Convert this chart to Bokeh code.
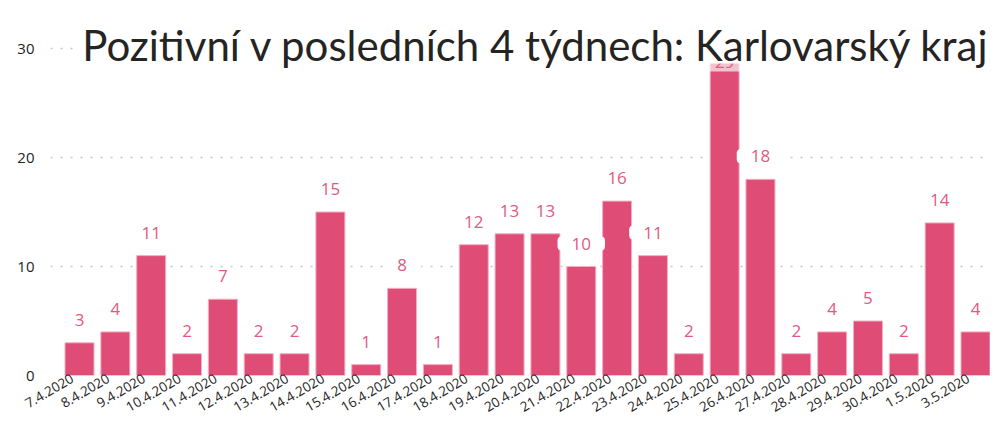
from bokeh.plotting import figure
from bokeh.models import (Range1d, FixedTicker, BoxAnnotation, Label, ColumnDataSource,
                          LinearAxis)
from bokeh.embed import file_html
from bokeh.resources import INLINE
from bokeh.core.properties import value

# ---- data ----
dates = ["7.4.2020", "8.4.2020", "9.4.2020", "10.4.2020", "11.4.2020", "12.4.2020",
         "13.4.2020", "14.4.2020", "15.4.2020", "16.4.2020", "17.4.2020", "18.4.2020",
         "19.4.2020", "20.4.2020", "21.4.2020", "22.4.2020", "23.4.2020", "24.4.2020",
         "25.4.2020", "26.4.2020", "27.4.2020", "28.4.2020", "29.4.2020", "30.4.2020",
         "1.5.2020", "3.5.2020"]
cases = [3, 4, 11, 2, 7, 2, 2, 15, 1, 8, 1, 12, 13, 13, 10, 16, 11, 2, 29, 18, 2, 4, 5, 2, 14, 4]
y_ticks = [0, 10, 20, 30]
title_text = "Pozitivní v posledních 4 týdnech: Karlovarský kraj"

# ---- style / layout constants ----
BAR = "#DF4D76"
LABEL = "#E05A83"
DARK = "#252423"
FIG_W = 990
LEFT = 50               # frame left edge (px)
ZERO_Y = 375            # pixel row of value 0 (= frame bottom)
TOP_Y = 48              # pixel row of value 30
FIRST_X, LAST_X = 79, 975
LABEL_SHIFT = 7         # px the date labels end left of the bar centre
y_max = 30

ppu_y = (ZERO_Y - TOP_Y) / y_max
ppu_x = (LAST_X - FIRST_X) / (len(dates) - 1)

x = list(range(len(dates)))
outside = [i for i in x if cases[i] < 27]
inside = [i for i in x if cases[i] >= 27]
src = ColumnDataSource(dict(x=x, top=cases))
src_out = ColumnDataSource(dict(x=[x[i] for i in outside], top=[cases[i] for i in outside],
                                label=[str(cases[i]) for i in outside]))
src_in = ColumnDataSource(dict(x=[x[i] for i in inside], top=[cases[i] for i in inside],
                               label=[str(cases[i]) for i in inside]))

x_start = -(FIRST_X - LEFT) / ppu_x
x_end = (FIG_W - FIRST_X) / ppu_x
y_end = ZERO_Y / ppu_y

p = figure(frame_width=FIG_W - LEFT, frame_height=ZERO_Y, output_backend="svg",
           toolbar_location=None,
           x_range=Range1d(x_start, x_end), y_range=Range1d(0, y_end),
           x_axis_location=None,
           min_border_left=LEFT, min_border_right=0, min_border_top=0, min_border_bottom=0)
p.outline_line_color = None
p.background_fill_color = "white"
p.border_fill_color = "white"

p.vbar(x="x", top="top", bottom=0, width=29 / ppu_x, source=src,
       fill_color=BAR, line_color="#F2AFC3", line_width=1)

# value labels
p.text(x="x", y="top", text="label", source=src_out, text_align="center",
       text_baseline="middle", y_offset=-23, text_color=LABEL,
       text_font=value("Open Sans"), text_font_size="17px",
       background_fill_color="white", padding=dict(top=1, right=14, bottom=1, left=14),
       border_radius=4)
p.text(x="x", y="top", text="label", source=src_in, text_align="center",
       text_baseline="middle", y_offset=3, text_color=LABEL,
       text_font=value("Open Sans"), text_font_size="17px",
       background_fill_color="white", background_fill_alpha=0.65,
       padding=dict(top=3, right=14, bottom=3, left=14))

# x axis on a slightly shifted range so label ends sit left of the bar centres
shift = LABEL_SHIFT / ppu_x
p.extra_x_ranges = {"lbl": Range1d(x_start + shift, x_end + shift)}
xaxis = LinearAxis(x_range_name="lbl", ticker=FixedTicker(ticks=x),
                   major_label_overrides={i: d for i, d in zip(x, dates)})
xaxis.major_label_orientation = 0.53
xaxis.axis_line_color = None
xaxis.major_tick_line_color = None
xaxis.minor_tick_line_color = None
xaxis.major_tick_out = 0
xaxis.major_tick_in = 0
xaxis.major_label_standoff = 2
xaxis.major_label_text_font = "Open Sans"
xaxis.major_label_text_font_size = "13.5px"
xaxis.major_label_text_color = DARK
p.add_layout(xaxis, "below")

# y axis
p.yaxis.ticker = FixedTicker(ticks=y_ticks)
p.yaxis.axis_line_color = None
p.yaxis.major_tick_line_color = None
p.yaxis.minor_tick_line_color = None
p.yaxis.major_tick_out = 0
p.yaxis.major_label_standoff = 16
p.yaxis.major_label_text_font = "Open Sans"
p.yaxis.major_label_text_font_size = "15px"
p.yaxis.major_label_text_color = DARK

p.xgrid.grid_line_color = None
p.ygrid.ticker = FixedTicker(ticks=y_ticks)
p.ygrid.grid_line_color = "#C8C6C4"
p.ygrid.grid_line_dash = "2 8"
p.ygrid.grid_line_width = 1.5

# title area (white background over top of plot) and title text
box = BoxAnnotation(left=(75 - FIRST_X) / ppu_x, bottom=y_max - 15 / ppu_y,
                    fill_color="white", fill_alpha=1, line_color=None)
p.add_layout(box)
title = Label(x=(990 - FIRST_X) / ppu_x, y=y_max + 4 / ppu_y, text=title_text,
              text_align="right", text_baseline="alphabetic", text_font="Lato",
              text_font_size="42px", text_color=DARK)
p.add_layout(title)

open("out.html", "w").write(file_html(p, INLINE))
